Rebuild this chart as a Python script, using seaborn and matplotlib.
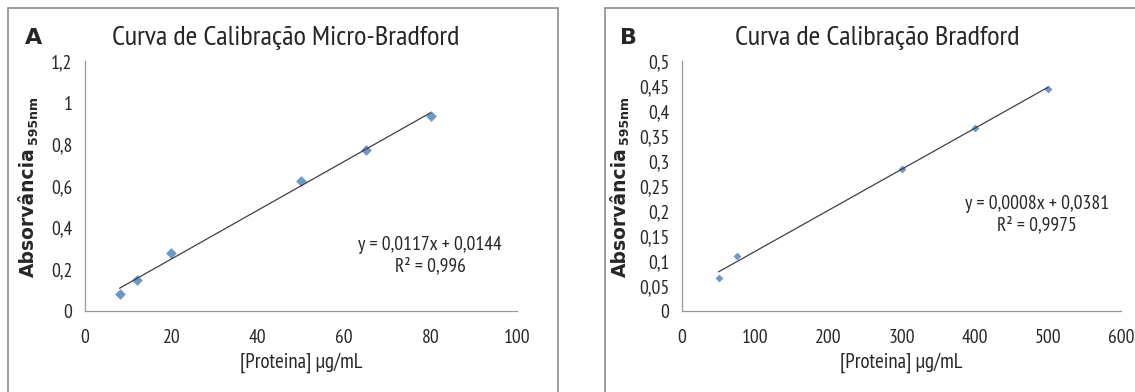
import numpy as np
import pandas as pd
import seaborn as sns
import matplotlib.pyplot as plt
from matplotlib.patches import Rectangle
from matplotlib import font_manager as fm

# panel A - micro-Bradford
micro_conc = [8, 12, 20, 50, 65, 80]
micro_abs = [0.083, 0.148, 0.280, 0.623, 0.773, 0.937]
micro_yticks = [0, 0.2, 0.4, 0.6, 0.8, 1.0, 1.2]
micro_xticks = [0, 20, 40, 60, 80, 100]

# panel B - Bradford
brad_conc = [50, 75, 300, 400, 500]
brad_abs = [0.067, 0.110, 0.284, 0.367, 0.445]
brad_yticks = [0, 0.05, 0.1, 0.15, 0.2, 0.25, 0.3, 0.35, 0.4, 0.45, 0.5]
brad_xticks = [0, 100, 200, 300, 400, 500, 600]


def pick_font(cands):
    for c in cands:
        try:
            fm.findfont(fm.FontProperties(family=c), fallback_to_default=False)
            return c
        except Exception:
            pass
    return 'DejaVu Sans'


narrow = pick_font(['PT Sans Narrow', 'Liberation Sans Narrow', 'Roboto Condensed',
                    'Open Sans Condensed', 'Fira Sans Condensed', 'Archivo Narrow',
                    'Encode Sans Condensed'])

sns.set_theme(style="white")
plt.rcParams['font.family'] = [narrow, 'DejaVu Sans']

fig = plt.figure(figsize=(11.35, 3.92), dpi=100)
W, H = 1135, 392


def px(x, y):
    return x / W, 1 - y / H


def comma(v):
    return ('%g' % v).replace('.', ',')


def panel(left, right, conc, absb, xticks, yticks, msize, letter, title,
          title_x, letter_x, eq, r2, eq_xy, ylab_x):
    x0, y0 = px(left, 311)
    x1, y1 = px(right, 61)
    ax = fig.add_axes([x0, y0, x1 - x0, y1 - y0])
    df = pd.DataFrame({'conc': conc, 'abs': absb})
    sns.regplot(data=df, x='conc', y='abs', ax=ax, ci=None, truncate=True,
                marker='D',
                scatter_kws={'s': msize, 'color': '#4a7ebb', 'linewidths': 0},
                line_kws={'color': '#404040', 'lw': 0.9})
    ax.set_xlim(xticks[0], xticks[-1])
    ax.set_ylim(yticks[0], yticks[-1])
    ax.set_xticks(xticks)
    ax.set_yticks(yticks)
    ax.set_xticklabels([comma(t) for t in xticks], fontsize=14)
    ax.set_yticklabels([comma(t) for t in yticks], fontsize=14)
    for s in ['top', 'right']:
        ax.spines[s].set_visible(False)
    for s in ['left', 'bottom']:
        ax.spines[s].set_color('#9a9a9a')
        ax.spines[s].set_linewidth(0.9)
    ax.tick_params(axis='both', direction='out', length=4, width=0.9,
                   color='#9a9a9a', pad=5)
    ax.tick_params(axis='x', pad=9)
    ax.set_xlabel('[Proteina] µg/mL', fontsize=15, labelpad=4)
    ax.set_ylabel('')
    # panel frame
    fig.patches.append(Rectangle(px(left - 77, 470), 550 / W, 462 / H,
                                 transform=fig.transFigure, fill=False,
                                 edgecolor='#8c8c8c', lw=1.2))
    fig.text(*px(letter_x, 38), letter, fontsize=16, fontweight='bold',
             family='DejaVu Sans', ha='left', va='center')
    fig.text(*px(title_x, 38), title, fontsize=20.5, ha='center', va='center')
    fig.text(*px(ylab_x, 212), 'Absorvância', fontsize=13.5,
             fontweight='bold', family='DejaVu Sans', rotation=90,
             ha='center', va='center')
    fig.text(*px(ylab_x + 5, 120), '595nm', fontsize=9,
             fontweight='bold', family='DejaVu Sans', rotation=90,
             ha='center', va='center')
    fig.text(*px(eq_xy[0], eq_xy[1]), eq, fontsize=14, ha='center', va='center')
    fig.text(*px(eq_xy[0], eq_xy[1] + 21), r2, fontsize=14, ha='center',
             va='center')
    return ax


panel(85, 517, micro_conc, micro_abs, micro_xticks, micro_yticks, 30,
      'A', 'Curva de Calibração Micro-Bradford', 286, 25,
      'y = 0,0117x + 0,0144', 'R² = 0,996', (430, 245), 28)
panel(682, 1121, brad_conc, brad_abs, brad_xticks, brad_yticks, 16,
      'B', 'Curva de Calibração Bradford', 877, 620,
      'y = 0,0008x + 0,0381', 'R² = 0,9975', (1037, 204), 620)

fig.savefig('out.png', dpi=100)
